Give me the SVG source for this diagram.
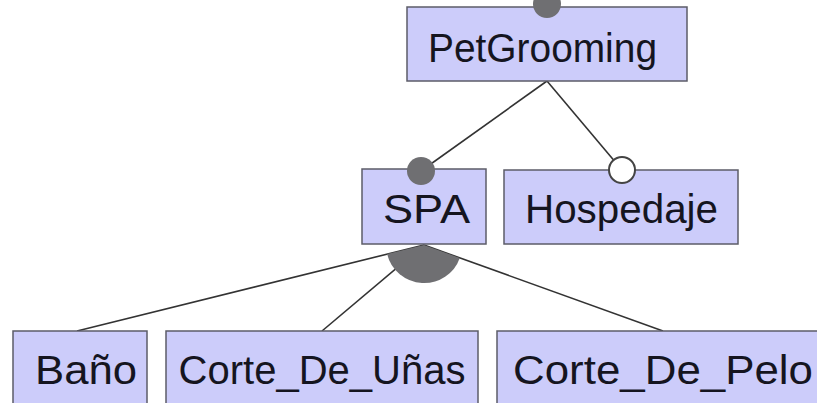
<svg xmlns="http://www.w3.org/2000/svg" width="817" height="403" viewBox="0 0 817 403">
  <style>
    .box { fill: #ccccfa; stroke: #5c5c68; stroke-width: 1.5; }
    .lbl { font-family: "Liberation Sans", Arial, sans-serif; font-size: 40px; fill: #15151f; }
    .edge { stroke: #333; stroke-width: 1.6; fill: none; }
    .mand { fill: #6f6f72; }
    .opt { fill: #ffffff; stroke: #444; stroke-width: 2; }
  </style>
  <rect width="817" height="403" fill="#ffffff"/>

  <!-- connectors -->
  <g id="connectors">
    <line class="edge" x1="547" y1="81" x2="421" y2="171"/>
    <line class="edge" x1="547" y1="81" x2="622" y2="170"/>
    <line class="edge" x1="424" y1="245" x2="77" y2="331"/>
    <line class="edge" x1="424" y1="245" x2="322" y2="331"/>
    <line class="edge" x1="424" y1="245" x2="663" y2="331"/>
    <!-- group (or) arc under SPA -->
    <path class="mand" d="M424 245 L387.1 254.1 A38 38 0 0 0 459.8 257.9 Z"/>
  </g>

  <g id="PetGrooming">
    <rect class="box" x="407" y="7" width="280" height="74"/>
    <circle class="mand" cx="547" cy="4" r="14"/>
    <text class="lbl" x="428" y="62" textLength="229" lengthAdjust="spacingAndGlyphs">PetGrooming</text>
  </g>

  <g id="SPA">
    <rect class="box" x="362" y="169" width="124" height="75"/>
    <circle class="mand" cx="421" cy="171" r="14"/>
    <text class="lbl" x="383" y="223" textLength="87" lengthAdjust="spacingAndGlyphs">SPA</text>
  </g>

  <g id="Hospedaje">
    <rect class="box" x="504" y="170" width="234" height="74"/>
    <circle class="opt" cx="622" cy="170" r="13"/>
    <text class="lbl" x="525" y="223" textLength="193" lengthAdjust="spacingAndGlyphs">Hospedaje</text>
  </g>

  <g id="Bano">
    <rect class="box" x="13" y="331" width="134" height="90"/>
    <text class="lbl" x="35" y="384" textLength="102" lengthAdjust="spacingAndGlyphs">Baño</text>
  </g>

  <g id="Corte_De_Unas">
    <rect class="box" x="166" y="331" width="312" height="90"/>
    <text class="lbl" x="322" y="384" text-anchor="middle">Corte_De_Uñas</text>
  </g>

  <g id="Corte_De_Pelo">
    <rect class="box" x="497" y="331" width="340" height="90"/>
    <text class="lbl" x="513" y="384" textLength="300" lengthAdjust="spacingAndGlyphs">Corte_De_Pelo</text>
  </g>
</svg>
